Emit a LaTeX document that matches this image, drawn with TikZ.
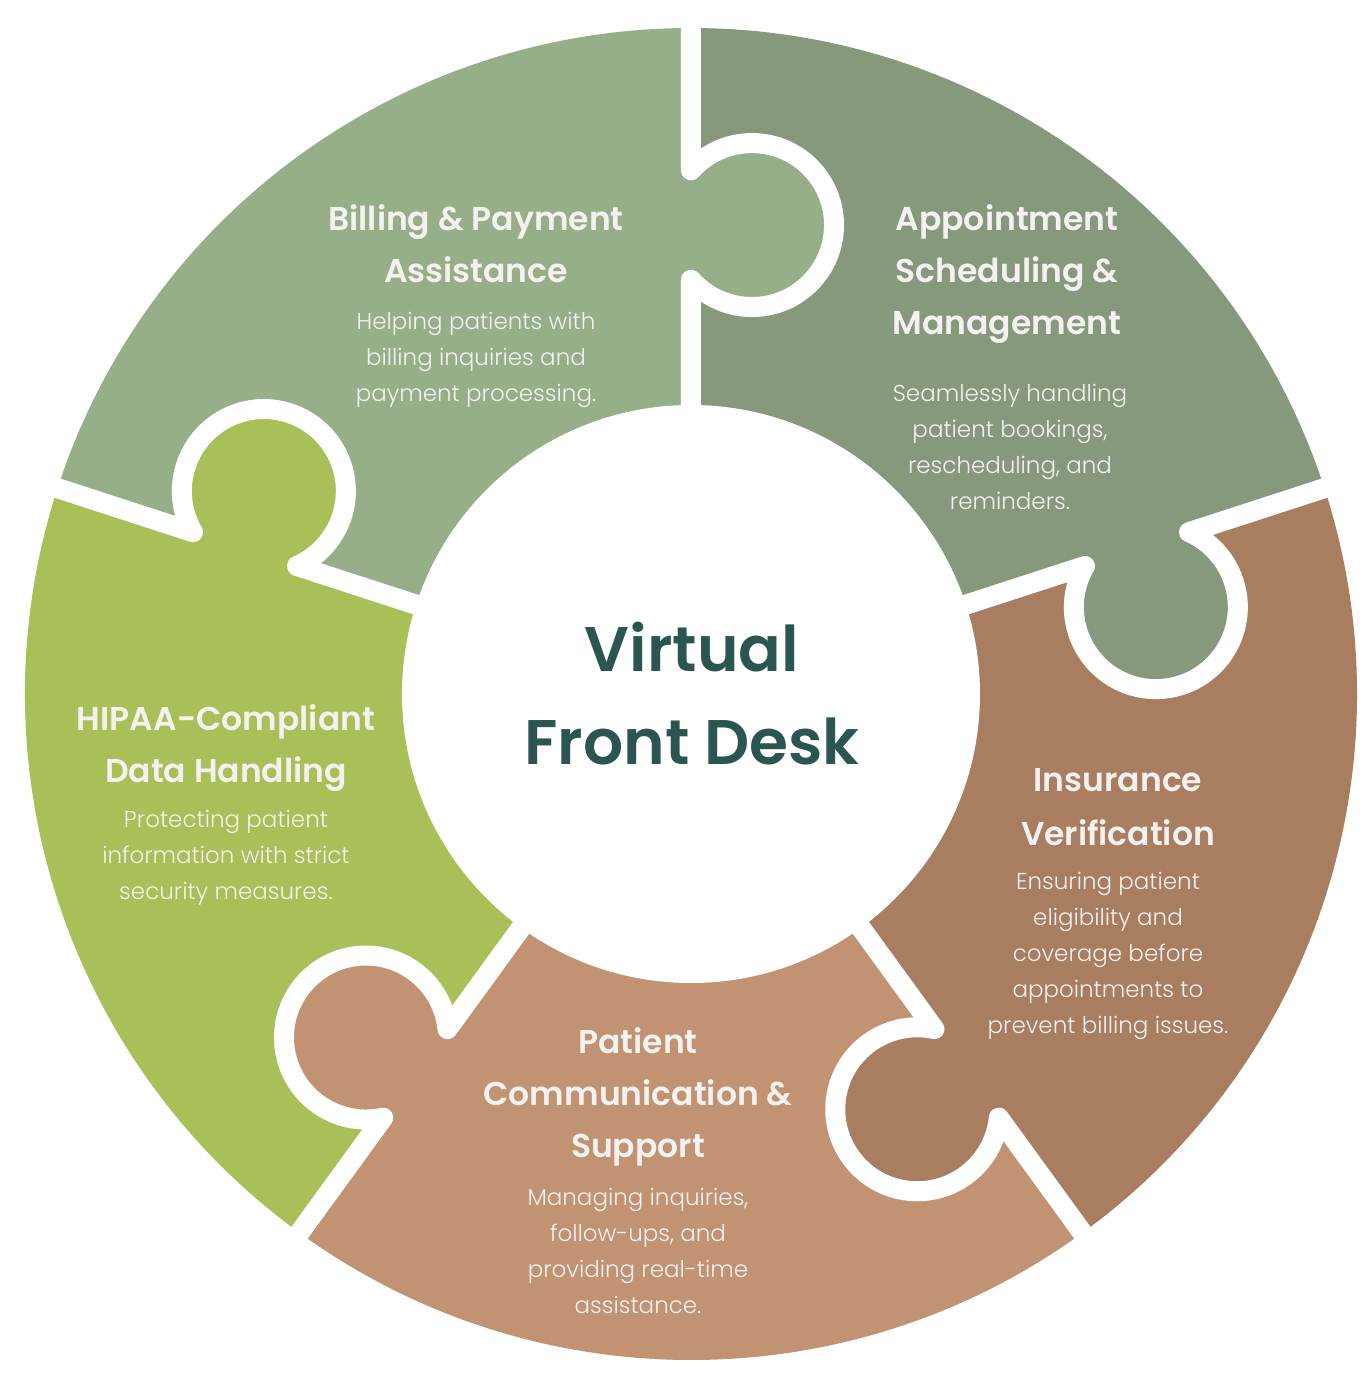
\documentclass[tikz,border=0pt]{standalone}
\usepackage{fontspec}
\setmainfont{Poppins}
\newfontfamily\headfont{Poppins SemiBold}
\newfontfamily\bodyfont{Poppins Light}
\definecolor{billing}{RGB}{151,175,137}
\definecolor{appoint}{RGB}{134,153,125}
\definecolor{insur}{RGB}{168,125,96}
\definecolor{patient}{RGB}{194,147,114}
\definecolor{hipaa}{RGB}{169,191,87}
\definecolor{teal}{RGB}{43,85,80}
\definecolor{txt}{RGB}{243,242,240}
\tikzset{
  x=1pt, y=1pt,
  gapline/.style={draw=white, line width=20pt, line join=round, line cap=butt},
  headtxt/.style={text=txt, align=center, inner sep=0pt, font=\headfont\fontsize{33}{52}\selectfont},
  bodytxt/.style={text=txt, align=center, inner sep=0pt, font=\bodyfont\fontsize{23}{36}\selectfont},
  centertxt/.style={text=teal, align=center, inner sep=0pt, font=\headfont\fontsize{63}{93}\selectfont},
}
\begin{document}
\begin{tikzpicture}
\useasboundingbox[fill=white] (-691,-690) rectangle (680,694);
% sectors
\fill[billing] (0,0) -- (90:666) arc[start angle=90, end angle=162, radius=666] -- cycle;
\fill[appoint] (0,0) -- (18:666) arc[start angle=18, end angle=90, radius=666] -- cycle;
\fill[insur] (0,0) -- (-54:666) arc[start angle=-54, end angle=18, radius=666] -- cycle;
\fill[patient] (0,0) -- (-126:666) arc[start angle=-126, end angle=-54, radius=666] -- cycle;
\fill[hipaa] (0,0) -- (162:666) arc[start angle=162, end angle=234, radius=666] -- cycle;
% knobs and gaps
\foreach \ang/\col in {90/billing, 18/appoint, -54/insur, -126/patient, 162/hipaa}{
  \begin{scope}[rotate=\ang]
    \fill[\col] (469,-61) circle (82);
    \draw[gapline] (270,0) -- (414.2,0) arc[start angle=131.9, end angle=408.1, radius=82] -- (700,0);
  \end{scope}
}
\fill[white] (0,0) circle (289);
% texts
\node[headtxt] (billT) at (-215,450) {Billing \& Payment\\Assistance};
\node[bodytxt] (billB) at (-215,334) {Helping patients with\\billing inquiries and\\payment processing.};
\node[headtxt] (appT) at (316,420) {Appointment\\Scheduling \&\\Management};
\node[bodytxt] (appB) at (319,247) {Seamlessly handling\\patient bookings,\\rescheduling, and\\reminders.};
\node[headtxt, font=\headfont\fontsize{33}{54}\selectfont] (insT) at (427,-113) {Insurance\\Verification};
\node[bodytxt] (insB) at (417,-262) {Ensuring patient\\eligibility and\\coverage before\\appointments to\\prevent billing issues.};
\node[headtxt] (patT) at (-53,-403) {Patient\\Communication \&\\Support};
\node[bodytxt] (patB) at (-53,-557) {Managing inquiries,\\follow-ups, and\\providing real-time\\assistance.};
\node[headtxt] (hipT) at (-465,-54) {HIPAA-Compliant\\Data Handling};
\node[bodytxt] (hipB) at (-465,-164) {Protecting patient\\information with strict\\security measures.};
\node[centertxt] (center) at (1,0) {Virtual\\Front Desk};
\end{tikzpicture}
\end{document}
